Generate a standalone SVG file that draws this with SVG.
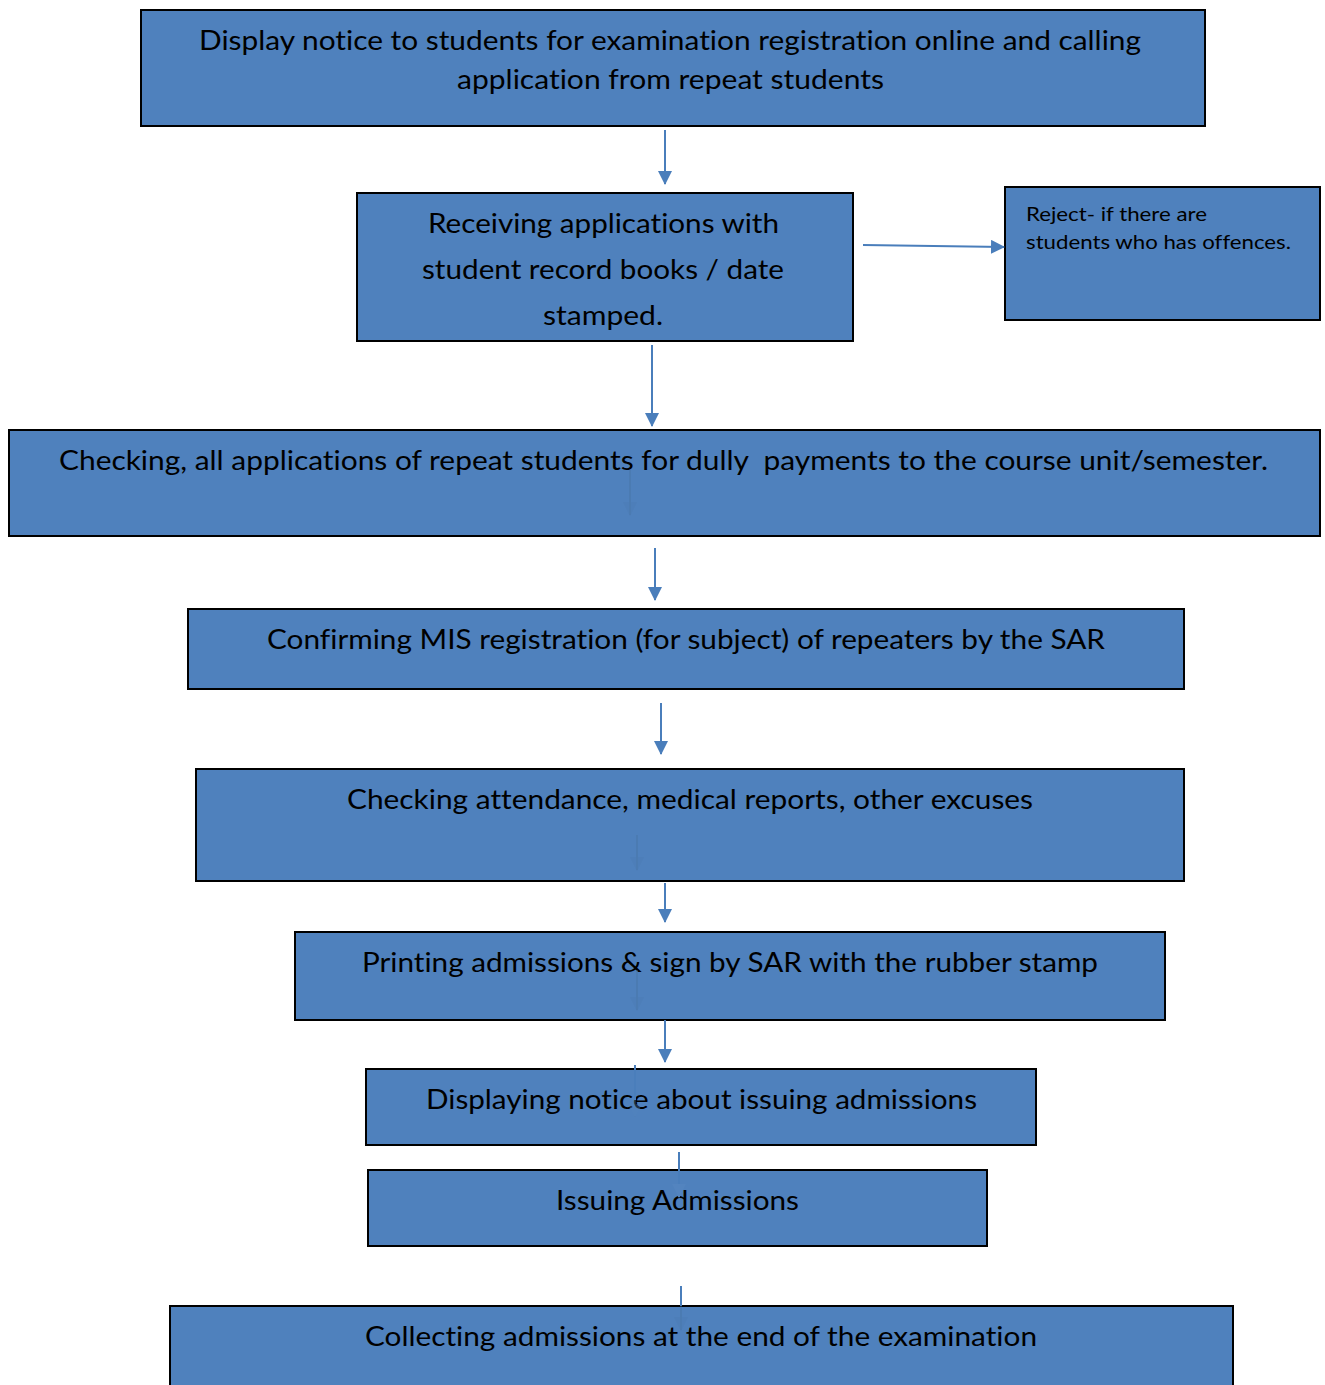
<svg xmlns="http://www.w3.org/2000/svg" width="1325" height="1385" viewBox="0 0 1325 1385">
  <style>
    .box { fill: #4f81bd; stroke: #000; stroke-width: 2; }
    .lbl { font-family: Lato, "Open Sans", "Liberation Sans", sans-serif; font-size: 26px; fill: #000; font-variant-ligatures: none; }
    .sm { font-size: 20px; }
    .flow { stroke: #4a7ebb; stroke-width: 2; fill: none; }
    .ghost { stroke: #44709f; stroke-width: 2; fill: none; opacity: 0.35; }
  </style>
  <defs>
    <marker id="head" markerWidth="14" markerHeight="14" refX="13" refY="7" orient="auto" markerUnits="userSpaceOnUse" viewBox="0 0 14 14">
      <path d="M0,0 L14,7 L0,14 Z" fill="#4a7ebb"/>
    </marker>
    <marker id="headFaint" markerWidth="14" markerHeight="14" refX="13" refY="7" orient="auto" markerUnits="userSpaceOnUse" viewBox="0 0 14 14">
      <path d="M0,0 L14,7 L0,14 Z" fill="#44709f" opacity="0.35"/>
    </marker>
    <marker id="headBox" markerWidth="14" markerHeight="14" refX="13" refY="7" orient="auto" markerUnits="userSpaceOnUse" viewBox="0 0 14 14">
      <path d="M0,0 L14,7 L0,14 Z" fill="#5384bf"/>
    </marker>
  </defs>

  <rect width="1325" height="1385" fill="#fff"/>

  <g id="n-display-notice">
    <rect class="box" x="141" y="10" width="1064" height="116"/>
    <text class="lbl" x="199" y="50" textLength="942" lengthAdjust="spacingAndGlyphs">Display notice to students for examination registration online and calling</text>
    <text class="lbl" x="457" y="89" textLength="427" lengthAdjust="spacingAndGlyphs">application from repeat students</text>
  </g>

  <g id="n-receiving">
    <rect class="box" x="357" y="193" width="496" height="148"/>
    <text class="lbl" x="428" y="233" textLength="351" lengthAdjust="spacingAndGlyphs">Receiving applications with</text>
    <text class="lbl" x="422" y="279" textLength="362" lengthAdjust="spacingAndGlyphs">student record books / date</text>
    <text class="lbl" x="543" y="325" textLength="120" lengthAdjust="spacingAndGlyphs">stamped.</text>
  </g>

  <g id="n-reject">
    <rect class="box" x="1005" y="187" width="315" height="133"/>
    <text class="lbl sm" x="1026" y="221" textLength="181" lengthAdjust="spacingAndGlyphs">Reject- if there are</text>
    <text class="lbl sm" x="1026" y="249" textLength="265" lengthAdjust="spacingAndGlyphs">students who has offences.</text>
  </g>

  <g id="n-check-payments">
    <rect class="box" x="9" y="430" width="1311" height="106"/>
    <text class="lbl" x="59" y="470" textLength="1209" lengthAdjust="spacingAndGlyphs" xml:space="preserve">Checking, all applications of repeat students for dully  payments to the course unit/semester.</text>
  </g>

  <g id="n-confirm-mis">
    <rect class="box" x="188" y="609" width="996" height="80"/>
    <text class="lbl" x="267" y="649" textLength="838" lengthAdjust="spacingAndGlyphs">Confirming MIS registration (for subject) of repeaters by the SAR</text>
  </g>

  <g id="n-check-attendance">
    <rect class="box" x="196" y="769" width="988" height="112"/>
    <text class="lbl" x="347" y="809" textLength="686" lengthAdjust="spacingAndGlyphs">Checking attendance, medical reports, other excuses</text>
  </g>

  <g id="n-printing">
    <rect class="box" x="295" y="932" width="870" height="88"/>
    <text class="lbl" x="362" y="972" textLength="736" lengthAdjust="spacingAndGlyphs">Printing admissions &amp; sign by SAR with the rubber stamp</text>
  </g>

  <g id="n-displaying-notice">
    <rect class="box" x="366" y="1069" width="670" height="76"/>
    <text class="lbl" x="426" y="1109" textLength="551" lengthAdjust="spacingAndGlyphs">Displaying notice about issuing admissions</text>
  </g>

  <g id="n-issuing">
    <rect class="box" x="368" y="1170" width="619" height="76"/>
    <text class="lbl" x="556" y="1210" textLength="243" lengthAdjust="spacingAndGlyphs">Issuing Admissions</text>
  </g>

  <g id="n-collecting">
    <rect class="box" x="170" y="1306" width="1063" height="90"/>
    <text class="lbl" x="365" y="1346" textLength="672" lengthAdjust="spacingAndGlyphs">Collecting admissions at the end of the examination</text>
  </g>

  <g id="connectors">
    <!-- main flow arrows between boxes -->
    <line class="flow" x1="665" y1="130" x2="665" y2="184" marker-end="url(#head)"/>
    <line class="flow" x1="863" y1="245" x2="1004" y2="247" marker-end="url(#head)"/>
    <line class="flow" x1="652" y1="345" x2="652" y2="426" marker-end="url(#head)"/>
    <line class="flow" x1="655" y1="548" x2="655" y2="600" marker-end="url(#head)"/>
    <line class="flow" x1="661" y1="703" x2="661" y2="754" marker-end="url(#head)"/>
    <line class="flow" x1="665" y1="883" x2="665" y2="922" marker-end="url(#head)"/>
    <line class="flow" x1="665" y1="1020" x2="665" y2="1062" marker-end="url(#head)"/>

    <!-- faint arrows showing through the box fills -->
    <line class="ghost" x1="630" y1="470" x2="630" y2="515" marker-end="url(#headFaint)"/>
    <line class="ghost" x1="637" y1="835" x2="637" y2="870" marker-end="url(#headFaint)"/>
    <line class="ghost" x1="637" y1="970" x2="637" y2="1010" marker-end="url(#headFaint)"/>

    <!-- short arrows overlapping the lower boxes -->
    <line class="flow" x1="635" y1="1065" x2="635" y2="1100"/>
    <line class="ghost" x1="635" y1="1100" x2="635" y2="1117" marker-end="url(#headBox)"/>
    <line class="flow" x1="679" y1="1152" x2="679" y2="1197" marker-end="url(#headBox)"/>
    <line class="flow" x1="681" y1="1286" x2="681" y2="1306"/>
    <line class="ghost" x1="681" y1="1306" x2="681" y2="1330" marker-end="url(#headFaint)"/>
  </g>
</svg>
